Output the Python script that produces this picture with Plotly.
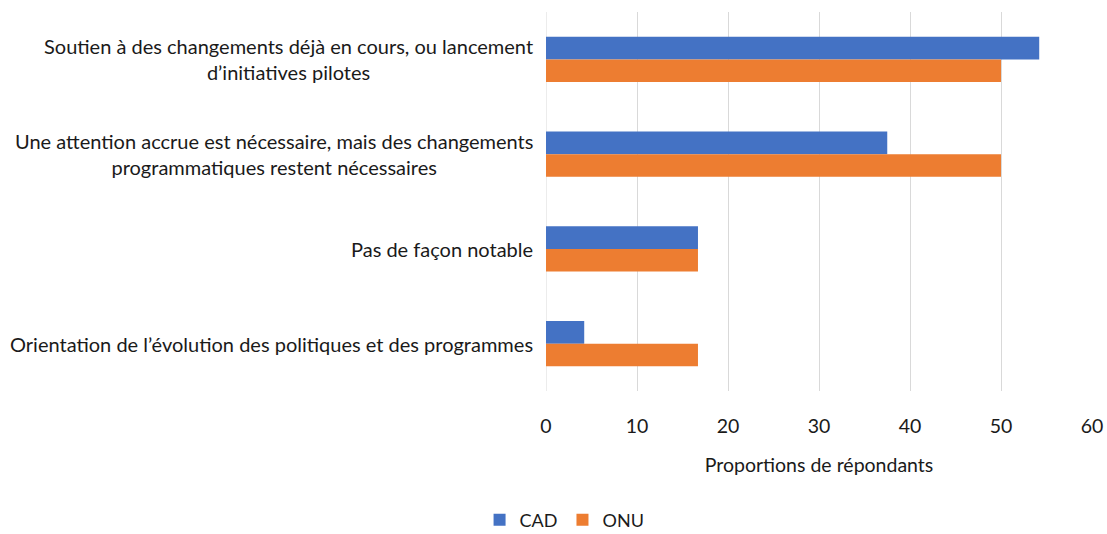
import plotly.graph_objects as go

categories = [
    "Soutien à des changements déjà en cours, ou lancement<br>d’initiatives pilotes",
    "Une attention accrue est nécessaire, mais des changements<br>programmatiques restent nécessaires",
    "Pas de façon notable",
    "Orientation de l’évolution des politiques et des programmes",
]
cad_values = [54.2, 37.5, 16.7, 4.2]
onu_values = [50.0, 50.0, 16.7, 16.7]
x_ticks = [0, 10, 20, 30, 40, 50, 60]

FONT = "Lato"
TXT = "#1a1a1a"
FS = 20

fig = go.Figure()
fig.add_trace(go.Bar(y=categories, x=cad_values, orientation="h", name="CAD",
                     marker=dict(color="#4472C4", line=dict(width=0))))
fig.add_trace(go.Bar(y=categories, x=onu_values, orientation="h", name="ONU",
                     marker=dict(color="#ED7D31", line=dict(width=0))))

for c in categories:
    fig.add_annotation(x=0, xref="paper", y=c, yref="y", text=c, showarrow=False,
                       xanchor="right", align="center", xshift=-11,
                       font=dict(family=FONT, size=FS, color=TXT))

fig.update_layout(
    width=1107, height=534,
    margin=dict(l=546, r=15, t=12, b=143, autoexpand=False),
    paper_bgcolor="white", plot_bgcolor="white",
    barmode="group", bargap=0.52, bargroupgap=0,
    font=dict(family=FONT, size=FS, color=TXT),
    showlegend=True,
    legend=dict(orientation="h", xref="container", yref="container",
                x=0.51, y=0.026, xanchor="center", yanchor="middle",
                font=dict(family=FONT, size=18, color=TXT),
                itemwidth=30, itemsizing="constant", traceorder="normal"),
    xaxis=dict(range=[0, 60], tickvals=x_ticks, showgrid=True, gridcolor="#d9d9d9",
               gridwidth=1, zeroline=False, showline=False, automargin=False,
               ticks="outside", ticklen=18, tickcolor="rgba(0,0,0,0)",
               tickfont=dict(family=FONT, size=FS - 0.5, color=TXT),
               title=dict(text="Proportions de répondants", standoff=21,
                          font=dict(family=FONT, size=FS - 0.5, color=TXT))),
    yaxis=dict(autorange="reversed", showticklabels=False, showgrid=False,
               zeroline=False, showline=False, automargin=False),
)
fig.add_vline(x=0, line=dict(color="#d9d9d9", width=1), layer="below")

fig.write_html(
    "out.html",
    config={"displayModeBar": False},
    post_script="document.body.style.margin='0px';document.body.style.overflow='hidden';",
)
